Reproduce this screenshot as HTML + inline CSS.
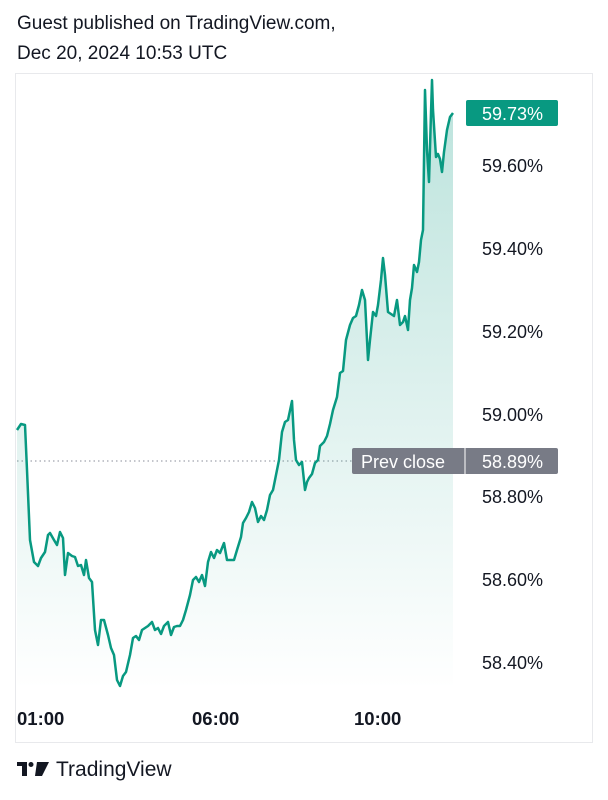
<!DOCTYPE html>
<html><head><meta charset="utf-8"><style>
body{margin:0;width:608px;height:800px;background:#fff;font-family:"Liberation Sans",sans-serif;overflow:hidden;position:relative}
.h{position:absolute;left:17px;font-size:19px;color:#131722}
.p{position:absolute;left:482px;font-size:18px;color:#131722}
.t{position:absolute;top:708px;font-size:18.5px;font-weight:bold;color:#131722}
</style></head><body>
<div class="h" style="top:13px">Guest published on TradingView.com,</div>
<div class="h" style="top:43px">Dec 20, 2024 10:53 UTC</div>
<div style="position:absolute;left:15px;top:73px;width:576px;height:668px;border:1px solid #e8e9ec"></div>
<svg width="608" height="800" style="position:absolute;left:0;top:0">
<defs><linearGradient id="g" x1="0" y1="0" x2="0" y2="1"><stop offset="0" stop-color="#0a9981" stop-opacity="0.28"/><stop offset="1" stop-color="#0a9981" stop-opacity="0"/></linearGradient></defs>
<line x1="17" y1="461" x2="352" y2="461" stroke="#8a8e99" stroke-dasharray="1.5 3"/>
<polygon fill="url(#g)" points="17,430 21,424 25,425 27,470 30,540 34,562 38,566 41,558 45,552 48,535 50,533 54,540 57,545 60,532 63,538 65,575 68,553 72,556 75,557 78,566 81,565 84,575 86,560 89,578 92,582 95,630 98,645 101,620 104,620 108,635 111,648 114,655 117,680 120,686 123,676 126,672 130,655 133,638 136,636 139,640 142,630 145,628 148,626 152,622 155,630 158,628 161,634 164,626 168,622 171,635 174,627 177,626 180,626 183,620 186,610 190,595 193,580 196,577 199,582 202,575 205,586 208,562 211,552 214,558 217,550 220,553 224,543 227,560 230,560 234,560 237,550 241,537 243,523 246,518 249,512 252,502 255,508 258,522 261,516 264,520 267,510 270,495 273,490 276,475 279,460 282,432 285,422 288,420 292,401 294,440 296,460 299,465 302,462 305,490 307,482 309,478 312,474 315,463 318,460 320,446 324,442 327,436 330,424 333,410 337,397 340,373 343,371 346,340 350,325 353,318 356,316 359,305 362,290 365,300 368,360 370,340 373,312 376,316 378,305 381,280 383,258 385,275 388,312 391,314 394,316 397,300 400,325 403,322 405,316 408,330 410,300 412,288 414,265 417,272 419,262 421,240 423,230 425,90 427,150 429,182 431,113 432,80 433,110 436,157 438,154 440,159 442,172 444,152 447,130 450,117 453,113 453,690 17,690"/>
<polyline fill="none" stroke="#089981" stroke-width="2.5" stroke-linejoin="round" points="17,430 21,424 25,425 27,470 30,540 34,562 38,566 41,558 45,552 48,535 50,533 54,540 57,545 60,532 63,538 65,575 68,553 72,556 75,557 78,566 81,565 84,575 86,560 89,578 92,582 95,630 98,645 101,620 104,620 108,635 111,648 114,655 117,680 120,686 123,676 126,672 130,655 133,638 136,636 139,640 142,630 145,628 148,626 152,622 155,630 158,628 161,634 164,626 168,622 171,635 174,627 177,626 180,626 183,620 186,610 190,595 193,580 196,577 199,582 202,575 205,586 208,562 211,552 214,558 217,550 220,553 224,543 227,560 230,560 234,560 237,550 241,537 243,523 246,518 249,512 252,502 255,508 258,522 261,516 264,520 267,510 270,495 273,490 276,475 279,460 282,432 285,422 288,420 292,401 294,440 296,460 299,465 302,462 305,490 307,482 309,478 312,474 315,463 318,460 320,446 324,442 327,436 330,424 333,410 337,397 340,373 343,371 346,340 350,325 353,318 356,316 359,305 362,290 365,300 368,360 370,340 373,312 376,316 378,305 381,280 383,258 385,275 388,312 391,314 394,316 397,300 400,325 403,322 405,316 408,330 410,300 412,288 414,265 417,272 419,262 421,240 423,230 425,90 427,150 429,182 431,113 432,80 433,110 436,157 438,154 440,159 442,172 444,152 447,130 450,117 453,113"/>
<rect x="466" y="100" width="92" height="26" rx="2" fill="#089981"/>
<text x="482" y="120" font-size="18" fill="#fff" font-family="Liberation Sans">59.73%</text>
<rect x="352" y="448" width="206" height="26" rx="2" fill="#787b86"/>
<line x1="465" y1="448" x2="465" y2="474" stroke="#fff" stroke-width="1"/>
<text x="361" y="468" font-size="18" fill="#fff" font-family="Liberation Sans">Prev close</text>
<text x="482" y="468" font-size="18" fill="#fff" font-family="Liberation Sans">58.89%</text>
<g transform="translate(17,762)" fill="#131722"><rect x="0" y="0" width="10" height="4"/><rect x="5" y="0" width="5" height="14"/><circle cx="14" cy="2.5" r="2.5"/><polygon points="20,0 32,0 25,14 18,14"/></g>
</svg>
<div class="p" style="top:156px">59.60%</div>
<div class="p" style="top:239px">59.40%</div>
<div class="p" style="top:322px">59.20%</div>
<div class="p" style="top:405px">59.00%</div>
<div class="p" style="top:487px">58.80%</div>
<div class="p" style="top:570px">58.60%</div>
<div class="p" style="top:653px">58.40%</div>
<div class="t" style="left:17px">01:00</div>
<div class="t" style="left:192px">06:00</div>
<div class="t" style="left:354px">10:00</div>
<div style="position:absolute;left:56px;top:758px;font-size:21px;color:#131722">TradingView</div>
</body></html>
